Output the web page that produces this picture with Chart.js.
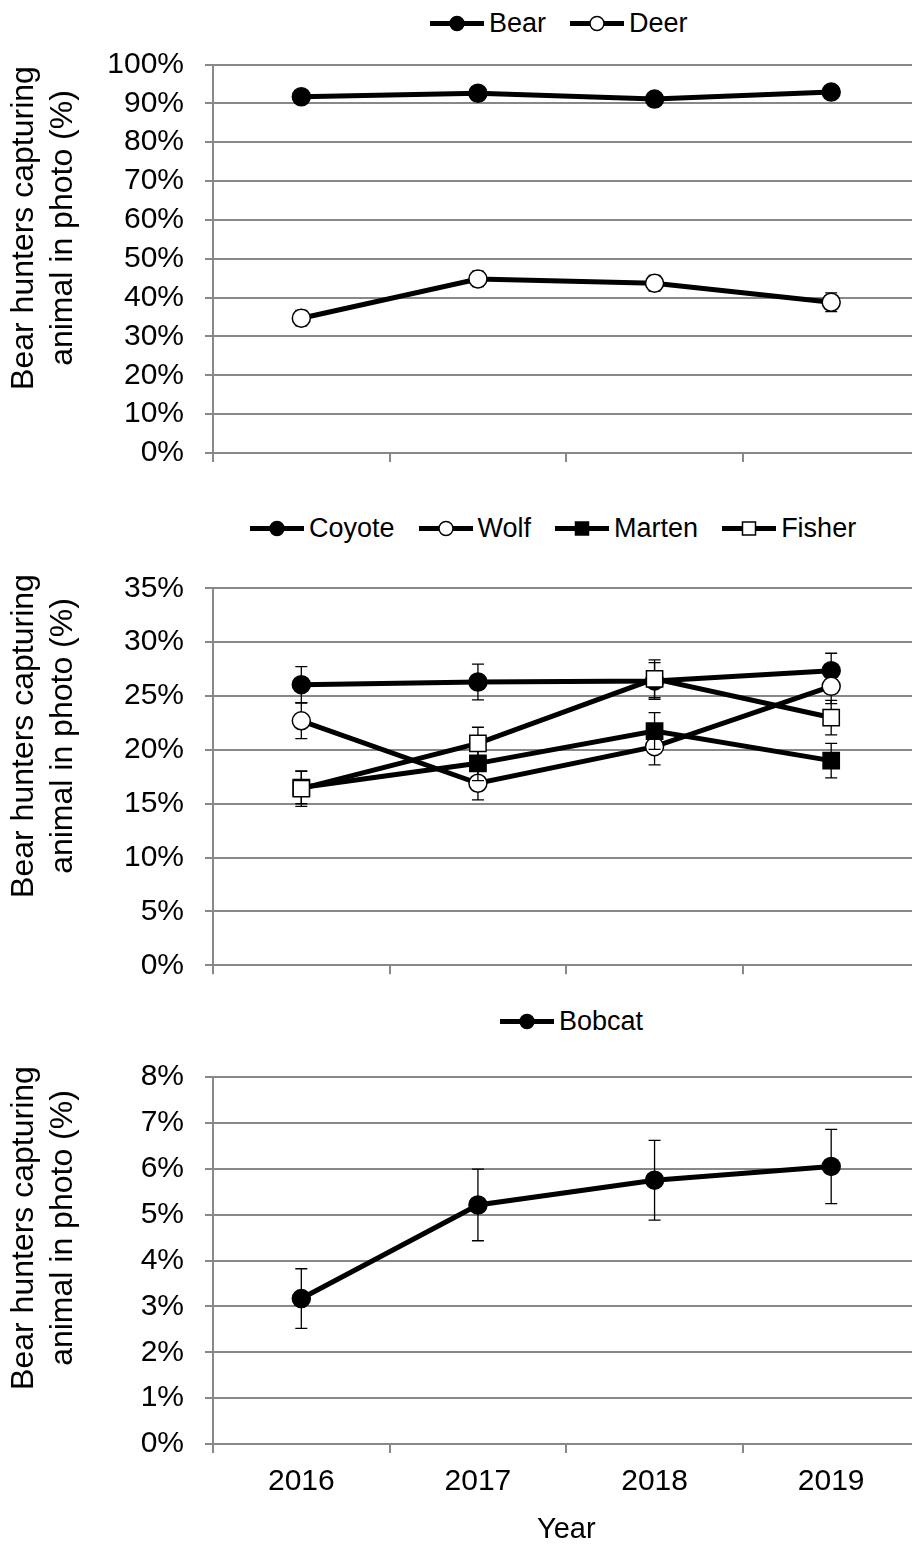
<!DOCTYPE html>
<html>
<head>
<meta charset="utf-8">
<script src="https://cdn.jsdelivr.net/npm/chart.js@4.4.1/dist/chart.umd.min.js"></script>
<style>
  html, body { margin: 0; padding: 0; width: 912px; height: 1544px; overflow: hidden; background: #fff; }
  .panel { position: absolute; left: 0; }
  canvas { display: block; }
  .legend { position: absolute; display: flex; align-items: center; transform: translateY(-50%);
            font: 27px "Liberation Sans", Arial, sans-serif; color: #000; white-space: nowrap; line-height: 1; }
  .legend .item { display: flex; align-items: center; margin-right: 24px; }
  .legend .item:last-child { margin-right: 0; }
  .legend svg { margin-right: 5px; display: block; }
</style>
</head>
<body>
<div id="legend1" class="legend" style="left:430px; top:23px;"></div>
<div class="panel" style="top:40px;"><canvas id="c1" width="930" height="440"></canvas></div>
<div id="legend2" class="legend" style="left:250px; top:528px;"></div>
<div class="panel" style="top:560px;"><canvas id="c2" width="930" height="440"></canvas></div>
<div id="legend3" class="legend" style="left:500px; top:1021px;"></div>
<div class="panel" style="top:1050px;"><canvas id="c3" width="930" height="494"></canvas></div>

<script>
// ---- data -------------------------------------------------------------
const years = ['2016', '2017', '2018', '2019'];

// share of bear hunters (%) whose trail-camera photos showed each animal
const bearPct   = [91.7, 92.6, 91.1, 92.9];
const bearErr   = [1.5, 1.5, 1.5, 1.5];
const deerPct   = [34.7, 44.8, 43.7, 38.8];
const deerErr   = [2.0, 2.0, 2.0, 2.4];

const coyotePct = [26.05, 26.3, 26.4, 27.35];
const coyoteErr = [1.67, 1.66, 1.7, 1.62];
const wolfPct   = [22.7, 16.9, 20.3, 25.9];
const wolfErr   = [1.65, 1.55, 1.7, 1.6];
const martenPct = [16.5, 18.75, 21.75, 19.0];
const martenErr = [1.5, 1.6, 1.7, 1.6];
const fisherPct = [16.4, 20.6, 26.6, 23.0];
const fisherErr = [1.65, 1.5, 1.75, 1.6];

const bobcatPct = [3.17, 5.21, 5.75, 6.05];
const bobcatErr = [0.65, 0.78, 0.87, 0.81];

const yTitleLines = ['Bear hunters capturing', 'animal in photo (%)'];
const xTitle = 'Year';

// ---- styling ----------------------------------------------------------
const FONT = '"Liberation Sans", Arial, sans-serif';
const GRID = '#888888';
Chart.defaults.font.family = FONT;
Chart.defaults.color = '#000';

// marker looks: filled/open circle, filled/open square
const LOOKS = {
  dotFilled:  { pointStyle: 'circle', fill: '#000', radius: 9 },
  dotOpen:    { pointStyle: 'circle', fill: '#fff', radius: 9 },
  boxFilled:  { pointStyle: 'rect',   fill: '#000', radius: 11.5 },
  boxOpen:    { pointStyle: 'rect',   fill: '#fff', radius: 11.5 }
};

function series(label, data, errors, look, order) {
  const l = LOOKS[look];
  return {
    label, data, errors, look, order,
    borderColor: '#000', borderWidth: 5, tension: 0, fill: false,
    pointStyle: l.pointStyle, pointRadius: l.radius, pointHoverRadius: l.radius,
    pointBackgroundColor: l.fill, pointBorderColor: '#000', pointBorderWidth: 1.5
  };
}

// error bars, drawn just under each series' line and markers
const errorBars = {
  id: 'errorBars',
  beforeDatasetDraw(chart, args) {
    const ds = chart.data.datasets[args.index];
    if (!ds.errors) return;
    const ctx = chart.ctx, xs = chart.scales.x, ys = chart.scales.y;
    ctx.save();
    ctx.strokeStyle = '#000';
    ctx.lineWidth = 1.3;
    ds.data.forEach((v, i) => {
      const e = ds.errors[i];
      const x = xs.getPixelForValue(i);
      const yHi = ys.getPixelForValue(v + e);
      const yLo = ys.getPixelForValue(v - e);
      ctx.beginPath();
      ctx.moveTo(x, yHi); ctx.lineTo(x, yLo);
      ctx.moveTo(x - 6, yHi); ctx.lineTo(x + 6, yHi);
      ctx.moveTo(x - 6, yLo); ctx.lineTo(x + 6, yLo);
      ctx.stroke();
    });
    ctx.restore();
  }
};

// two-line rotated y-axis title
const yTitle = {
  id: 'yTitle',
  afterDraw(chart, args, opts) {
    const ctx = chart.ctx;
    ctx.save();
    ctx.font = '32px ' + FONT;
    ctx.fillStyle = '#000';
    ctx.textAlign = 'center';
    ctx.textBaseline = 'middle';
    opts.lines.forEach((t, i) => {
      ctx.save();
      ctx.translate(opts.x + i * opts.gap, opts.y);
      ctx.rotate(-Math.PI / 2);
      ctx.fillText(t, 0, 0);
      ctx.restore();
    });
    ctx.restore();
  }
};

function makeChart(id, datasets, p) {
  return new Chart(document.getElementById(id), {
    type: 'line',
    data: { labels: years, datasets },
    plugins: [errorBars, yTitle],
    options: {
      responsive: false,
      animation: false,
      events: [],
      layout: { autoPadding: false, padding: { top: p.padTop, right: 10.5, bottom: 0, left: 0 } },
      plugins: {
        legend: { display: false },
        tooltip: { enabled: false },
        yTitle: { lines: yTitleLines, x: 24, gap: 39, y: p.titleY }
      },
      scales: {
        x: {
          type: 'category',
          offset: true,
          ticks: { display: p.showYears, autoSkip: false, color: '#000', font: { size: 30 },
                   padding: 11, maxRotation: 0 },
          grid: { display: true, offset: true, drawOnChartArea: false, drawTicks: true,
                  tickLength: 9, color: GRID, lineWidth: 2 },
          border: { display: true, color: GRID, width: 2 },
          title: { display: p.showYears, text: xTitle, color: '#000',
                   font: { size: 29, lineHeight: 1 }, padding: { top: 0, bottom: 0 } },
          afterFit: s => { s.height = p.xHeight; s.paddingLeft = 0; s.paddingRight = 0; }
        },
        y: {
          min: 0, max: p.yMax,
          ticks: { stepSize: p.yStep, autoSkip: false, callback: v => v + '%', color: '#000',
                   font: { size: 30 }, padding: 21 },
          grid: { color: GRID, lineWidth: 2, tickLength: 8, drawTicks: true },
          border: { display: true, color: GRID, width: 2 },
          afterFit: s => { s.width = 213; s.paddingTop = 0; s.paddingBottom = 0; }
        }
      }
    }
  });
}

function legendIcon(look) {
  const l = LOOKS[look];
  let marker;
  if (l.pointStyle === 'circle') {
    marker = `<circle cx="27" cy="10" r="7" fill="${l.fill}" stroke="#000" stroke-width="1.5"/>`;
  } else {
    marker = `<rect x="20.5" y="3.5" width="13" height="13" fill="${l.fill}" stroke="#000" stroke-width="1.5"/>`;
  }
  return `<svg width="54" height="20" viewBox="0 0 54 20"><line x1="0" y1="10" x2="54" y2="10" stroke="#000" stroke-width="5"/>${marker}</svg>`;
}

function buildLegend(id, datasets) {
  const items = [...datasets].sort((a, b) => b.order - a.order);
  document.getElementById(id).innerHTML = items
    .map(d => `<span class="item">${legendIcon(d.look)}<span>${d.label}</span></span>`)
    .join('');
}

// ---- panels -------------------------------------------------------------
const big = [
  series('Bear', bearPct, bearErr, 'dotFilled', 2),
  series('Deer', deerPct, deerErr, 'dotOpen', 1)
];
const mid = [
  series('Coyote', coyotePct, coyoteErr, 'dotFilled', 4),
  series('Wolf', wolfPct, wolfErr, 'dotOpen', 3),
  series('Marten', martenPct, martenErr, 'boxFilled', 2),
  series('Fisher', fisherPct, fisherErr, 'boxOpen', 1)
];
const small = [
  series('Bobcat', bobcatPct, bobcatErr, 'dotFilled', 1)
];

buildLegend('legend1', big);
buildLegend('legend2', mid);
buildLegend('legend3', small);

makeChart('c1', big,   { padTop: 24.5, xHeight: 27,   yMax: 100, yStep: 10, titleY: 188, showYears: false });
makeChart('c2', mid,   { padTop: 28.3, xHeight: 34.7, yMax: 35,  yStep: 5,  titleY: 176, showYears: false });
makeChart('c3', small, { padTop: 27,   xHeight: 100,  yMax: 8,   yStep: 1,  titleY: 178, showYears: true });
</script>
</body>
</html>
